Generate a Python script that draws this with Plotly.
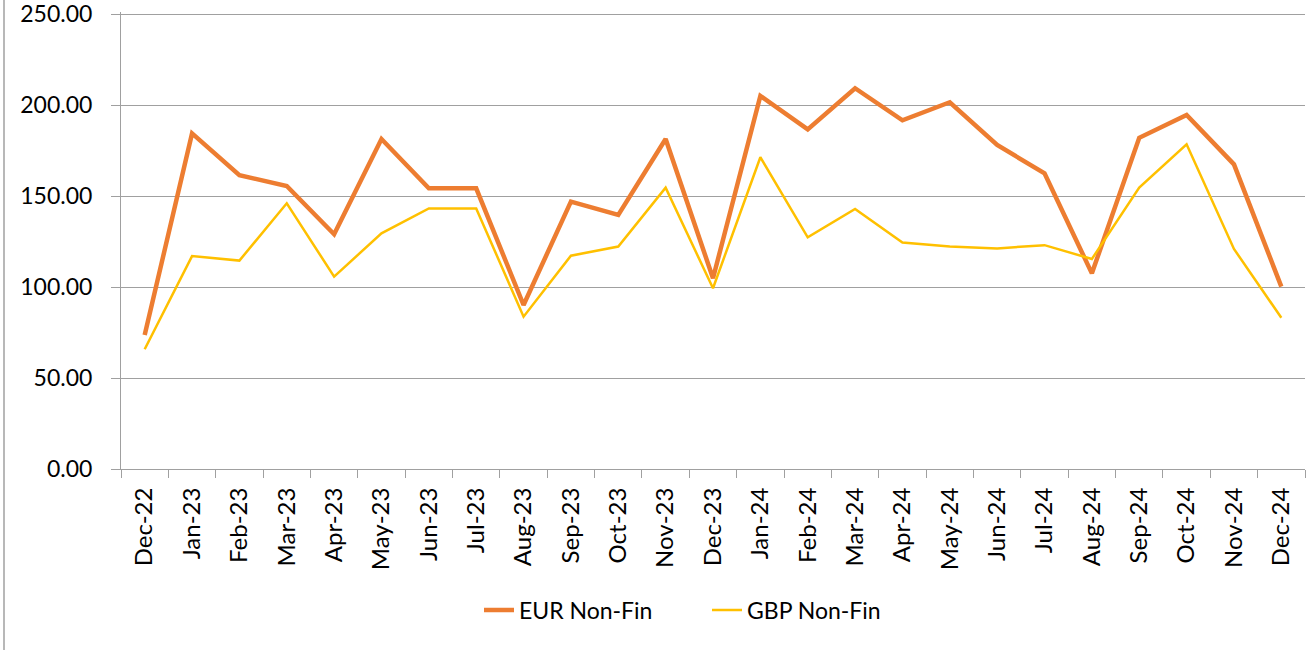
import plotly.graph_objects as go

months = ["Dec-22", "Jan-23", "Feb-23", "Mar-23", "Apr-23", "May-23", "Jun-23", "Jul-23",
          "Aug-23", "Sep-23", "Oct-23", "Nov-23", "Dec-23", "Jan-24", "Feb-24", "Mar-24",
          "Apr-24", "May-24", "Jun-24", "Jul-24", "Aug-24", "Sep-24", "Oct-24", "Nov-24", "Dec-24"]
eur_non_fin = [73.6, 184.4, 161.4, 155.5, 129.0, 181.3, 154.2, 154.2, 90.1, 146.9, 139.6, 181.3,
               104.8, 205.0, 186.6, 209.2, 191.6, 201.5, 178.0, 162.5, 107.5, 182.0, 194.5, 167.4, 100.2]
gbp_non_fin = [65.8, 117.0, 114.5, 146.0, 105.7, 129.5, 143.2, 143.2, 83.7, 117.2, 122.2, 154.6,
               99.3, 171.3, 127.3, 142.9, 124.4, 122.2, 121.2, 123.0, 115.4, 154.6, 178.4, 120.9, 83.1]
y_ticks = [0, 50, 100, 150, 200, 250]

FONT = "Lato"
W, H = 1307, 650
ML, MR, MT, MB = 121, 2, 12, 181
PW = W - ML - MR
PH = H - MT - MB

fig = go.Figure()
fig.add_trace(go.Scatter(x=months, y=eur_non_fin, mode="lines", name="EUR Non-Fin",
                         line=dict(color="#ED7D31", width=4.5)))
fig.add_trace(go.Scatter(x=months, y=gbp_non_fin, mode="lines", name="GBP Non-Fin",
                         line=dict(color="#FFC000", width=2.5)))

fig.update_layout(
    width=W, height=H,
    margin=dict(l=ML, r=MR, t=MT, b=MB, autoexpand=False),
    paper_bgcolor="white", plot_bgcolor="white",
    font=dict(family=FONT, size=20, color="#000000"),
    showlegend=True,
    legend=dict(orientation="h", x=(479 - ML) / PW, xanchor="left",
                y=(469 - 610) / PH, yanchor="middle",
                font=dict(size=23), entrywidth=183, entrywidthmode="pixels",
                tracegroupgap=0),
    xaxis=dict(type="category", tickangle=-90, showgrid=False, showline=True,
               linecolor="#a0a0a0", linewidth=1, ticks="outside", tickson="boundaries",
               ticklen=8, tickcolor="#a0a0a0", tickfont=dict(size=24), zeroline=False,
               range=[-0.5, len(months) - 0.5], automargin=False, ticklabelstandoff=8),
    yaxis=dict(range=[0, 251.1], tickvals=y_ticks, tickformat=".2f", showgrid=True,
               gridcolor="#a0a0a0", gridwidth=1, showline=True, linecolor="#a0a0a0",
               ticks="outside", ticklen=9, tickcolor="#a0a0a0", tickfont=dict(size=23),
               zeroline=False, automargin=False, ticklabelstandoff=14,
               ticklabeloverflow="allow"),
)

# outer chart border fragment on left
fig.add_shape(type="line", xref="paper", yref="paper",
              x0=(4 - ML) / PW, x1=(4 - ML) / PW, y0=(PH + MT) / PH, y1=(PH + MT - H) / PH,
              line=dict(color="#a0a0a0", width=1.5))

# remove the browser's default 8px page margin so the figure fills the window
fig.write_html("out.html", config={"displayModeBar": False},
               post_script="document.body.style.margin='0px';")
